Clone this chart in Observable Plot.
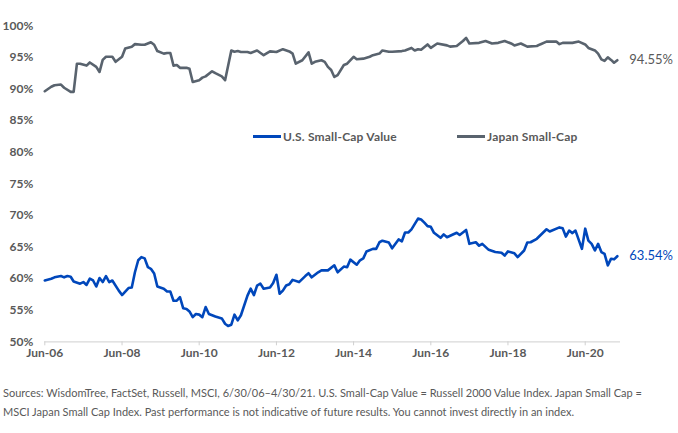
<!DOCTYPE html>
<html><head><meta charset="utf-8">
<script src="https://cdn.jsdelivr.net/npm/d3@7"></script>
<script src="https://cdn.jsdelivr.net/npm/@observablehq/plot@0.6"></script>
<style>
body{margin:0;background:#fff;}
#wrap{position:relative;width:678px;height:433px;}
.legend{position:absolute;top:129px;font:bold 12px Lato,sans-serif;color:#595959;display:flex;align-items:center;height:15px;white-space:nowrap;letter-spacing:0.2px;}
.sw{display:inline-block;width:28px;height:3px;margin-right:2px;}
#caption{position:absolute;left:3px;top:383px;font:11px Lato,sans-serif;color:#595959;line-height:19px;white-space:nowrap;}
</style></head>
<body>
<div id="wrap">
  <div id="chart"></div>
  <div id="legend"></div>
  <div id="caption"></div>
</div>
<script>
// months since Jun-2006
const usMonths = [0,2,3,5,6,7,8,9,11,12,13,14,15,16,17,18,19,20,21,23,24,26,27,28,29,30,31,32,33,34,35,37,38,39,40,41,42,43,44,45,46,47,48,49,50,51,53,55,56,57,58,59,60,61,63,64,65,66,67,68,70,71,72,73,74,75,76,77,79,81,82,83,85,86,88,90,91,93,94,95,97,98,99,100,102,103,104,105,107,108,110,111,112,113,114,116,117,118,119,120,121,123,124,125,128,129,131,132,134,135,136,138,140,142,143,144,146,147,149,150,151,153,156,157,160,161,162,163,164,165,167,168,169,170,171,172,173,174,175,176,177,178];
const usValues = [59.7,59.97,60.2,60.4,60.2,60.4,60.3,59.55,59.2,59.45,59.0,60.0,59.7,58.75,60.1,59.45,60.4,59.45,59.7,58.1,57.4,58.5,58.6,61.0,62.9,63.4,63.2,61.8,61.55,60.8,58.75,58.4,57.95,57.95,56.5,56.5,57.05,55.3,55.2,54.8,53.9,54.4,54.3,53.9,55.5,54.4,54.0,53.7,52.85,52.5,52.7,54.3,53.4,54.2,57.3,58.4,57.4,58.9,59.2,58.4,58.6,59.3,60.6,57.6,58.1,58.9,59.1,59.8,59.45,60.4,60.85,60.2,61.0,61.3,61.3,62.1,61.0,61.9,61.8,63.0,62.2,62.9,63.2,64.3,64.7,64.7,65.75,66.0,65.7,64.8,66.2,65.9,67.3,67.3,67.8,69.5,69.35,68.85,68.3,68.2,67.25,66.45,67.0,66.55,67.25,66.9,67.7,65.5,65.75,65.2,65.5,64.55,64.2,64.1,63.65,64.3,64.0,63.4,64.45,65.7,65.75,66.3,67.8,67.45,68.1,67.95,66.65,67.6,67.2,67.6,64.7,67.9,66.0,65.5,64.45,65.5,64.2,63.9,62.1,63.15,63.05,63.54];
const japanMonths = [0,2,3,5,6,8,9,10,11,13,14,16,17,18,19,21,22,24,25,27,28,30,31,33,34,35,37,38,39,40,41,42,44,45,46,48,49,50,52,53,55,56,58,59,60,61,63,64,66,68,70,72,74,76,77,78,80,82,83,84,86,87,88,89,90,91,93,94,96,97,99,101,102,104,105,107,108,111,112,114,115,116,117,119,120,122,125,126,128,130,131,132,135,137,139,141,143,145,146,148,150,153,154,156,159,160,161,164,166,168,169,171,172,173,174,175,176,177,178];
const japanValues = [89.65,90.35,90.6,90.7,90.2,89.55,89.55,94.0,94.0,93.7,94.2,93.5,92.7,94.6,95.1,95.1,94.3,95.1,96.4,96.7,97.1,97.0,97.0,97.4,97.0,96.0,95.6,95.7,95.7,93.7,93.8,93.35,93.35,93.2,91.1,91.4,91.8,92.0,92.8,92.5,92.0,91.4,96.1,95.9,96.0,95.85,95.85,95.7,96.1,95.35,95.95,95.85,96.3,95.95,95.6,94.0,94.55,95.8,94.0,94.3,94.55,94.3,93.5,93.0,91.9,92.2,93.8,94.0,95.1,94.7,94.8,95.1,95.35,95.6,96.1,95.9,95.9,96.0,96.1,96.5,96.1,96.3,96.2,97.05,96.5,97.2,96.9,96.7,96.8,97.6,98.1,97.2,97.3,97.6,97.2,97.3,97.6,97.2,96.9,97.2,96.7,96.8,97.05,97.5,97.5,97.1,97.3,97.3,97.5,97.05,96.5,96.1,95.6,94.7,94.45,95.0,94.6,94.15,94.55];
const seriesNames = ["U.S. Small-Cap Value", "Japan Small-Cap"];
const seriesColors = ["#0047BB", "#59636E"];
const yTicks = [50,55,60,65,70,75,80,85,90,95,100];
const xTickMonths = [0,24,48,72,96,120,144,168];
const xTickLabels = ["Jun-06","Jun-08","Jun-10","Jun-12","Jun-14","Jun-16","Jun-18","Jun-20"];
const endLabels = ["63.54%", "94.55%"];
const captionLines = [
  "Sources: WisdomTree, FactSet, Russell, MSCI, 6/30/06\u20134/30/21. U.S. Small-Cap Value = Russell 2000 Value Index. Japan Small Cap =",
  "MSCI Japan Small Cap Index. Past performance is not indicative of future results. You cannot invest directly in an index."
];

const start = new Date(Date.UTC(2006, 5, 1));
const toDate = m => d3.utcMonth.offset(start, m);
const us = usMonths.map((m, i) => ({date: toDate(m), value: usValues[i], series: seriesNames[0]}));
const jp = japanMonths.map((m, i) => ({date: toDate(m), value: japanValues[i], series: seriesNames[1]}));
const ends = [
  {...us[us.length - 1], label: endLabels[0]},
  {...jp[jp.length - 1], label: endLabels[1]}
];
const xTicks = xTickMonths.map(toDate);

const chart = Plot.plot({
  width: 678,
  height: 366,
  marginLeft: 44.3,
  marginRight: 58,
  marginTop: 25.3,
  marginBottom: 24.7,
  style: {fontFamily: "Lato, sans-serif", color: "#595959", background: "#fff"},
  x: {type: "utc", domain: [toDate(0), toDate(179)], label: null},
  y: {domain: [50, 100], label: null},
  marks: [
    Plot.ruleY([50], {stroke: "#d9d9d9", strokeWidth: 1.3}),
    Plot.axisX({ticks: xTicks, tickFormat: (d, i) => xTickLabels[i], tickSize: 4, tickPadding: 3, stroke: "#d0d0d0", fill: "#595959", fontSize: 12, fontWeight: "bold", label: null}),
    Plot.axisY({ticks: yTicks, tickFormat: d => d + "%", tickSize: 0, tickPadding: 11.5, fill: "#595959", fontSize: 12, fontWeight: "bold", label: null}),
    Plot.line(jp, {x: "date", y: "value", stroke: seriesColors[1], strokeWidth: 2.6, strokeLinejoin: "round"}),
    Plot.line(us, {x: "date", y: "value", stroke: seriesColors[0], strokeWidth: 2.6, strokeLinejoin: "round"}),
    Plot.text(ends, {x: "date", y: "value", text: "label", dx: 12, textAnchor: "start", fontSize: 13,
      fill: (d) => d.series === seriesNames[0] ? seriesColors[0] : "#595959",
      fontWeight: (d) => d.series === seriesNames[0] ? "bold" : "normal"})
  ]
});
document.getElementById("chart").append(chart);

// legend
const legend = document.getElementById("legend");
const legendLeft = [253, 457];
seriesNames.forEach((name, i) => {
  const item = document.createElement("div");
  item.className = "legend";
  item.style.left = legendLeft[i] + "px";
  item.innerHTML = `<span class="sw" style="background:${seriesColors[i]}"></span><span>${name}</span>`;
  legend.append(item);
});

document.getElementById("caption").innerHTML = captionLines.join("<br>");
</script>
</body></html>
